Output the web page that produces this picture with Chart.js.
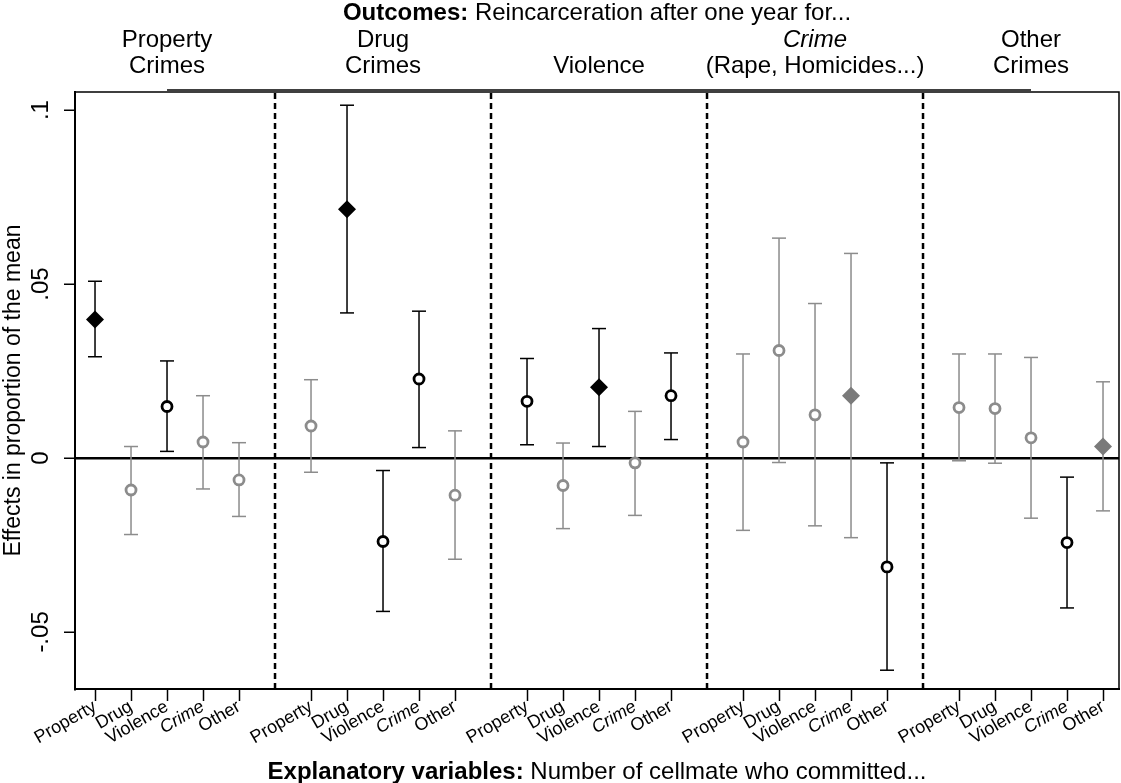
<!DOCTYPE html>
<html>
  <head>
    <script src="https://cdn.jsdelivr.net/npm/chart.js@4/dist/chart.umd.min.js"></script>
    <style>
      body { margin: 0; background: #fff; }
    </style>
  </head>
  <body>
    <canvas id="myChart" width="1121" height="783"></canvas>

    <script>
      var FONT = "'Liberation Sans', Arial, Helvetica, sans-serif";

      // explanatory variables (x tick labels, repeated for each outcome)
      var categories = ["Property", "Drug", "Violence", "Crime", "Other"];
      // outcomes (top labels), two lines each
      var outcomes = [
        ["Property", "Crimes"],
        ["Drug", "Crimes"],
        ["", "Violence"],
        ["Crime", "(Rape, Homicides...)"],
        ["Other", "Crimes"],
      ];
      var outcomeItalic = [false, false, false, true, false];

      // point estimates and 95% bounds, grouped by outcome
      var estimates = [
        0.0398, -0.0092, 0.0148, 0.0046, -0.0063,
        0.0092, 0.0715, -0.024, 0.0227, -0.0107,
        0.0163, -0.0079, 0.0203, -0.0014, 0.0179,
        0.0046, 0.0309, 0.0124, 0.0179, -0.0313,
        0.0145, 0.0142, 0.0058, -0.0243, 0.0033,
      ];
      var lower = [
        0.0291, -0.022, 0.0019, -0.0089, -0.0168,
        -0.0041, 0.0417, -0.0441, 0.003, -0.0291,
        0.0038, -0.0203, 0.0033, -0.0165, 0.0053,
        -0.0208, -0.0013, -0.0195, -0.0229, -0.061,
        -0.0008, -0.0015, -0.0173, -0.0431, -0.0152,
      ];
      var upper = [
        0.0508, 0.0033, 0.0279, 0.0179, 0.0044,
        0.0225, 0.1014, -0.0036, 0.0422, 0.0078,
        0.0286, 0.0043, 0.0372, 0.0134, 0.0302,
        0.0299, 0.0632, 0.0444, 0.0588, -0.0014,
        0.0299, 0.0299, 0.0289, -0.0055, 0.0219,
      ];

      var yTicks = [-0.05, 0, 0.05, 0.1];
      var yTickLabels = ["-.05", "0", ".05", ".1"];
      var separators = [5, 11, 17, 23];

      var Y_MIN = -0.0664, Y_MAX = 0.1052;
      var X_MIN = -0.556, X_MAX = 28.444;
      var GRAY = "#8c8c8c";

      // build the datasets
      var pts = { blackCircle: [], grayCircle: [], blackDiamond: [], grayDiamond: [] };
      var whiskBlack = [], whiskGray = [], xTicks = [];
      for (var i = 0; i < estimates.length; i++) {
        var g = Math.floor(i / 5), k = i % 5, x = g * 6 + k;
        var sig = lower[i] > 0 || upper[i] < 0;
        var key = (sig ? "black" : "gray") + (g === k ? "Diamond" : "Circle");
        pts[key].push({ x: x, y: estimates[i] });
        var w = sig ? whiskBlack : whiskGray;
        w.push({ x: x, y: lower[i] }, { x: x, y: upper[i] }, { x: x, y: null });
        xTicks.push(x);
      }
      var sepData = [];
      separators.forEach(function (s) {
        sepData.push({ x: s, y: Y_MIN }, { x: s, y: Y_MAX }, { x: s, y: null });
      });

      function whisker(data, color) {
        return {
          data: data,
          borderColor: color,
          borderWidth: 1.5,
          pointStyle: "line",
          pointRadius: 7,
          pointBorderWidth: 1.5,
          pointBorderColor: color,
          spanGaps: false,
          order: 2,
        };
      }
      function marks(data, style, radius, stroke, fill, bw) {
        return {
          data: data,
          showLine: false,
          pointStyle: style,
          pointRadius: radius,
          pointBorderColor: stroke,
          pointBackgroundColor: fill,
          pointBorderWidth: bw,
          order: 0,
        };
      }

      function drawMixed(ctx, bold, rest, cx, y, size) {
        ctx.font = "bold " + size + "px " + FONT;
        var w1 = ctx.measureText(bold).width;
        ctx.font = size + "px " + FONT;
        var w2 = ctx.measureText(rest).width;
        var x0 = cx - (w1 + w2) / 2;
        ctx.textAlign = "left";
        ctx.font = "bold " + size + "px " + FONT;
        ctx.fillText(bold, x0, y);
        ctx.font = size + "px " + FONT;
        ctx.fillText(rest, x0 + w1, y);
      }

      var textPlugin = {
        id: "textPlugin",
        afterDraw: function (chart) {
          var ctx = chart.ctx, xs = chart.scales.x, area = chart.chartArea;
          var cx = (area.left + area.right) / 2;
          ctx.save();

          // top and right sides of the frame
          ctx.strokeStyle = "#000";
          ctx.lineWidth = 1.5;
          ctx.beginPath();
          ctx.moveTo(area.left, area.top);
          ctx.lineTo(area.right, area.top);
          ctx.lineTo(area.right, area.bottom);
          ctx.stroke();

          // top axis line
          ctx.beginPath();
          ctx.moveTo(xs.getPixelForValue(2), area.top - 2);
          ctx.lineTo(xs.getPixelForValue(26), area.top - 2);
          ctx.stroke();

          ctx.fillStyle = "#000";
          ctx.textBaseline = "alphabetic";
          drawMixed(ctx, "Outcomes:", " Reincarceration after one year for...", cx, 20, 24);
          drawMixed(ctx, "Explanatory variables:", " Number of cellmate who committed...", cx, 779, 24);

          ctx.textAlign = "center";
          outcomes.forEach(function (lines, g) {
            var px = xs.getPixelForValue(g * 6 + 2);
            ctx.font = (outcomeItalic[g] ? "italic " : "") + "24px " + FONT;
            ctx.fillText(lines[0], px, 47);
            ctx.font = "24px " + FONT;
            ctx.fillText(lines[1], px, 73);
          });
          ctx.restore();
        },
      };

      // no extra room for the rotated tick labels
      function noPadding(scale) {
        scale.paddingLeft = scale.paddingRight = scale.paddingTop = scale.paddingBottom = 0;
      }

      var ctx = document.getElementById("myChart").getContext("2d");
      var myChart = new Chart(ctx, {
        type: "line",
        data: {
          datasets: [
            {
              data: sepData,
              borderColor: "#000",
              borderWidth: 2.5,
              borderDash: [6, 4],
              pointRadius: 0,
              spanGaps: false,
              order: 3,
            },
            whisker(whiskGray, GRAY),
            whisker(whiskBlack, "#000"),
            marks(pts.grayCircle, "circle", 5, GRAY, "#fff", 2.8),
            marks(pts.blackCircle, "circle", 5, "#000", "#fff", 2.8),
            marks(pts.grayDiamond, "rectRot", 9, "#7a7a7a", "#7a7a7a", 0),
            marks(pts.blackDiamond, "rectRot", 9, "#000", "#000", 0),
          ],
        },
        options: {
          responsive: false,
          animation: false,
          events: [],
          layout: { autoPadding: false, padding: { top: 92, right: 2, left: 0, bottom: 0 } },
          plugins: {
            legend: { display: false },
            title: { display: false },
            tooltip: { enabled: false },
          },
          scales: {
            x: {
              type: "linear",
              position: "bottom",
              min: X_MIN,
              max: X_MAX,
              afterBuildTicks: function (scale) {
                scale.ticks = xTicks.map(function (v) { return { value: v }; });
              },
              afterFit: function (scale) {
                scale.height = 94;
                noPadding(scale);
              },
              ticks: {
                autoSkip: false,
                minRotation: 30,
                maxRotation: 30,
                padding: -5,
                color: "#000",
                font: function (c) {
                  return { family: FONT, size: 18, style: c.index % 5 === 3 ? "italic" : "normal" };
                },
                callback: function (v, idx) { return categories[idx % 5]; },
              },
              grid: {
                drawOnChartArea: false,
                tickLength: 12,
                tickColor: "#000",
                tickWidth: 1.5,
              },
              border: { display: true, color: "#000", width: 2 },
            },
            y: {
              type: "linear",
              position: "left",
              min: Y_MIN,
              max: Y_MAX,
              afterBuildTicks: function (scale) {
                scale.ticks = yTicks.map(function (v) { return { value: v }; });
              },
              afterFit: function (scale) { scale.width = 75; noPadding(scale); },
              ticks: {
                minRotation: 90,
                maxRotation: 90,
                crossAlign: "center",
                padding: 2,
                color: "#000",
                font: { family: FONT, size: 24 },
                callback: function (v, idx) { return yTickLabels[idx]; },
              },
              grid: {
                color: function (c) { return c.tick && c.tick.value === 0 ? "#000" : "rgba(0,0,0,0)"; },
                lineWidth: 2.5,
                tickLength: 11,
                tickColor: "#000",
                tickWidth: 1.5,
              },
              border: { display: true, color: "#000", width: 2 },
              title: {
                display: true,
                text: "Effects in proportion of the mean",
                color: "#000",
                font: { family: FONT, size: 23 },
                padding: { top: 0, bottom: 0 },
              },
            },
          },
        },
        plugins: [textPlugin],
      });
    </script>
  </body>
</html>
